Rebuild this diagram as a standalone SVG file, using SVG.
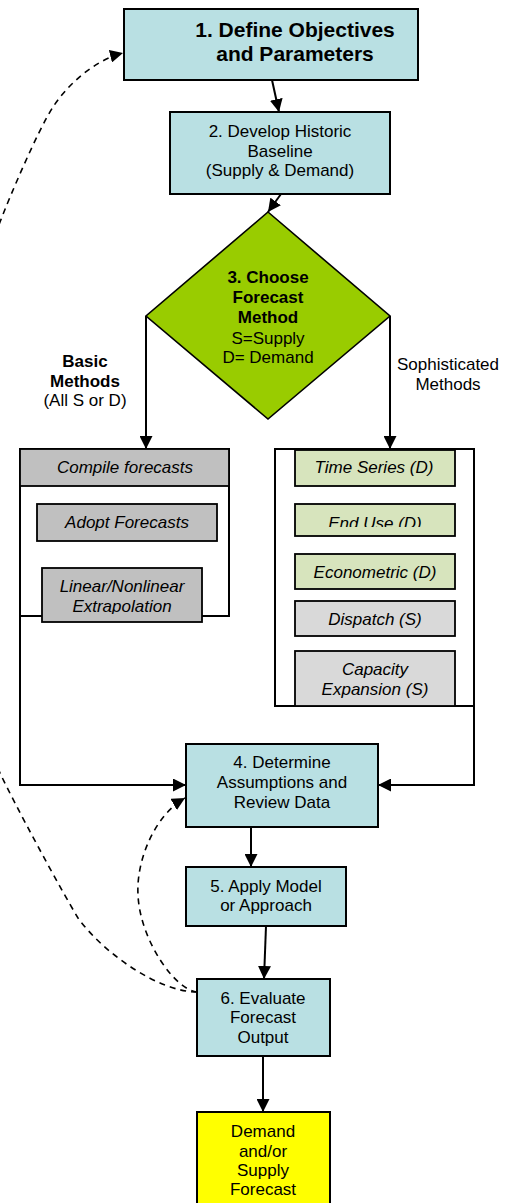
<svg xmlns="http://www.w3.org/2000/svg" width="516" height="1203" viewBox="0 0 516 1203">
<style>
text{font-family:"Liberation Sans",Arial,sans-serif;font-size:17px;fill:#000;text-anchor:middle}
.b{font-weight:bold}
.i{font-style:italic}
.t{font-size:21px;font-weight:bold}
.cy{fill:#B9E0E3;stroke:#000;stroke-width:2}
.gr{fill:#C0C0C0;stroke:#000;stroke-width:1.8}
.lg{fill:#D7E4BD;stroke:#000;stroke-width:1.8}
.lt{fill:#D9D9D9;stroke:#000;stroke-width:1.8}
.ct{fill:#FFF;stroke:#000;stroke-width:2}
.c{fill:none;stroke:#000;stroke-width:2}
.d{fill:none;stroke:#000;stroke-width:1.6;stroke-dasharray:6 5}
</style>
<defs>
<marker id="ah" viewBox="0 0 12 12" refX="12" refY="6" markerWidth="13" markerHeight="13" markerUnits="userSpaceOnUse" orient="auto">
<path d="M0,0 L12,6 L0,12 z" fill="#000"/>
</marker>
<clipPath id="clipEU"><rect x="295" y="504" width="160" height="23"/></clipPath>
<clipPath id="clipLN"><rect x="42" y="568" width="160" height="46"/></clipPath>
</defs>

<g id="connectors">
<line class="c" x1="272" y1="80" x2="279" y2="112" marker-end="url(#ah)"/>
<line class="c" x1="281" y1="194" x2="268" y2="212" marker-end="url(#ah)"/>
<line class="c" x1="146" y1="316" x2="146" y2="449" marker-end="url(#ah)"/>
<line class="c" x1="390" y1="316" x2="390" y2="449" marker-end="url(#ah)"/>
<path class="c" d="M20,616 L20,785 L186,785" marker-end="url(#ah)"/>
<path class="c" d="M474,706 L474,785 L378,785" marker-end="url(#ah)"/>
<line class="c" x1="251" y1="827" x2="251" y2="867" marker-end="url(#ah)"/>
<line class="c" x1="266" y1="926" x2="264" y2="979" marker-end="url(#ah)"/>
<line class="c" x1="263" y1="1056" x2="263" y2="1112" marker-end="url(#ah)"/>
<path class="d" d="M197,992 C175,990 140,940 138,895 C136,860 155,815 185,798" marker-end="url(#ah)"/>
<path class="d" d="M197,992 C160,992 105,955 78,918 C60,888 15,805 0,773 C-20,730 -50,600 -50,490 C-50,380 -15,260 0,222 C10,196 38,130 53,107 C68,84 95,60 123,53" marker-end="url(#ah)"/>
</g>

<g id="n1">
<rect class="cy" x="124" y="9" width="294" height="71"/>
<text class="t" x="295" y="37">1. Define Objectives</text>
<text class="t" x="295" y="61">and Parameters</text>
</g>

<g id="n2">
<rect class="cy" x="170" y="112" width="220" height="82"/>
<text x="280" y="137">2. Develop Historic</text>
<text x="280" y="157">Baseline</text>
<text x="280" y="176">(Supply &amp; Demand)</text>
</g>

<g id="n3">
<polygon points="268,212 390,316 268,419 146,316" fill="#99CC00" stroke="#000" stroke-width="1.6"/>
<text class="b" x="268" y="283">3. Choose</text>
<text class="b" x="268" y="303">Forecast</text>
<text class="b" x="268" y="323">Method</text>
<text x="268" y="344">S=Supply</text>
<text x="268" y="363">D= Demand</text>
</g>

<g id="label-basic">
<text class="b" x="85" y="367">Basic</text>
<text class="b" x="85" y="387">Methods</text>
<text x="85" y="406">(All S or D)</text>
</g>

<g id="label-soph">
<text x="448" y="370">Sophisticated</text>
<text x="448" y="390">Methods</text>
</g>

<g id="basic-methods">
<rect class="ct" x="20" y="449" width="209" height="167"/>
<rect class="gr" x="20" y="449" width="209" height="37"/>
<text class="i" x="125" y="473">Compile forecasts</text>
<g id="adopt">
<rect class="gr" x="37" y="504" width="180" height="37"/>
<text class="i" x="127" y="528">Adopt Forecasts</text>
</g>
<g id="linear">
<rect class="gr" x="42" y="568" width="160" height="54"/>
<g clip-path="url(#clipLN)">
<text class="i" x="122" y="592">Linear/Nonlinear</text>
<text class="i" x="122" y="612">Extrapolation</text>
</g>
</g>
</g>

<g id="soph-methods">
<rect class="ct" x="275" y="449" width="199" height="257"/>
<g id="timeseries">
<rect class="lg" x="295" y="450" width="160" height="36"/>
<text class="i" x="374" y="473">Time Series (D)</text>
</g>
<g id="enduse">
<rect class="lg" x="295" y="504" width="160" height="32"/>
<text class="i" x="375" y="529" clip-path="url(#clipEU)">End Use (D)</text>
</g>
<g id="econometric">
<rect class="lg" x="295" y="554" width="160" height="35"/>
<text class="i" x="375" y="578">Econometric (D)</text>
</g>
<g id="dispatch">
<rect class="lt" x="295" y="601" width="160" height="35"/>
<text class="i" x="375" y="625">Dispatch (S)</text>
</g>
<g id="capacity">
<rect class="lt" x="295" y="651" width="160" height="55"/>
<text class="i" x="375" y="675">Capacity</text>
<text class="i" x="375" y="695">Expansion (S)</text>
</g>
</g>

<g id="n4">
<rect class="cy" x="186" y="744" width="192" height="83"/>
<text x="282" y="768">4. Determine</text>
<text x="282" y="788">Assumptions and</text>
<text x="282" y="808">Review Data</text>
</g>

<g id="n5">
<rect class="cy" x="186" y="867" width="160" height="59"/>
<text x="266" y="892">5. Apply Model</text>
<text x="266" y="911">or Approach</text>
</g>

<g id="n6">
<rect class="cy" x="197" y="979" width="133" height="77"/>
<text x="263" y="1004">6. Evaluate</text>
<text x="263" y="1023">Forecast</text>
<text x="263" y="1043">Output</text>
</g>

<g id="n7">
<rect x="197" y="1112" width="133" height="100" fill="#FFFF00" stroke="#000" stroke-width="2"/>
<text x="263" y="1137">Demand</text>
<text x="263" y="1157">and/or</text>
<text x="263" y="1176">Supply</text>
<text x="263" y="1195">Forecast</text>
</g>
</svg>
